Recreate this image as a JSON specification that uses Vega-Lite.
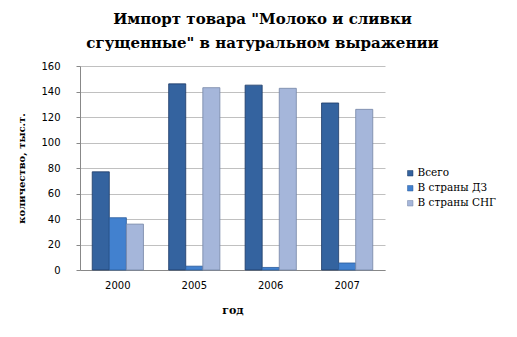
{
  "$schema": "https://vega.github.io/schema/vega-lite/v6.json",
  "width": 305,
  "height": 204,
  "autosize": {"type": "none"},
  "padding": {"left": 80, "top": 66, "right": 132, "bottom": 67},
  "background": "white",
  "title": {
    "text": ["Импорт товара \"Молоко и сливки", "сгущенные\" в натуральном выражении"],
    "font": "DejaVu Serif",
    "fontSize": 15,
    "fontWeight": "bold",
    "color": "#000000",
    "lineHeight": 24,
    "anchor": "middle",
    "dx": 30,
    "offset": 10
  },
  "data": {
    "values": [
      {"year": "2000", "series": "Всего", "value": 77},
      {"year": "2000", "series": "В страны ДЗ", "value": 41},
      {"year": "2000", "series": "В страны СНГ", "value": 36},
      {"year": "2005", "series": "Всего", "value": 146},
      {"year": "2005", "series": "В страны ДЗ", "value": 3},
      {"year": "2005", "series": "В страны СНГ", "value": 143},
      {"year": "2006", "series": "Всего", "value": 145},
      {"year": "2006", "series": "В страны ДЗ", "value": 2},
      {"year": "2006", "series": "В страны СНГ", "value": 142.5},
      {"year": "2007", "series": "Всего", "value": 131},
      {"year": "2007", "series": "В страны ДЗ", "value": 5.5},
      {"year": "2007", "series": "В страны СНГ", "value": 126}
    ]
  },
  "mark": {"type": "bar", "strokeWidth": 0.8},
  "encoding": {
    "x": {
      "field": "year",
      "type": "nominal",
      "scale": {"paddingInner": 0.33, "paddingOuter": 0.16},
      "axis": {
        "title": "год",
        "titleFont": "DejaVu Serif",
        "titleFontSize": 11,
        "titleFontWeight": "bold",
        "titleColor": "#000",
        "titlePadding": 14,
        "labelAngle": 0,
        "labelFont": "DejaVu Sans",
        "labelFontSize": 10,
        "labelColor": "#000",
        "labelPadding": 10,
        "ticks": false,
        "domainColor": "#888888",
        "grid": false
      }
    },
    "xOffset": {
      "field": "series",
      "type": "nominal",
      "sort": ["Всего", "В страны ДЗ", "В страны СНГ"],
      "scale": {"paddingInner": 0}
    },
    "y": {
      "field": "value",
      "type": "quantitative",
      "scale": {"domain": [0, 160]},
      "axis": {
        "values": [0, 20, 40, 60, 80, 100, 120, 140, 160],
        "title": "количество, тыс.т.",
        "titleFont": "DejaVu Serif",
        "titleFontSize": 10,
        "titleFontWeight": "bold",
        "titleColor": "#000",
        "titlePadding": 14,
        "labelFont": "DejaVu Sans",
        "labelFontSize": 10,
        "labelColor": "#000",
        "labelPadding": 16,
        "tickSize": 4,
        "tickColor": "#888888",
        "domainColor": "#888888",
        "gridColor": "#b0b0b0",
        "gridWidth": 0.8
      }
    },
    "color": {
      "field": "series",
      "type": "nominal",
      "sort": ["Всего", "В страны ДЗ", "В страны СНГ"],
      "scale": {
        "domain": ["Всего", "В страны ДЗ", "В страны СНГ"],
        "range": ["#34639f", "#4281cf", "#a5b6da"]
      },
      "legend": {
        "title": null,
        "orient": "none",
        "legendX": 325,
        "legendY": 102,
        "symbolType": "square",
        "symbolSize": 30,
        "symbolStrokeColor": "#404040",
        "symbolStrokeWidth": 0.5,
        "labelFont": "DejaVu Serif",
        "labelFontSize": 10.5,
        "labelColor": "#000",
        "rowPadding": 4,
        "labelOffset": 2
      }
    },
    "stroke": {
      "field": "series",
      "type": "nominal",
      "scale": {
        "domain": ["Всего", "В страны ДЗ", "В страны СНГ"],
        "range": ["#1d3a66", "#2a5a9a", "#7585a6"]
      },
      "legend": null
    }
  },
  "config": {"view": {"stroke": null}}
}
